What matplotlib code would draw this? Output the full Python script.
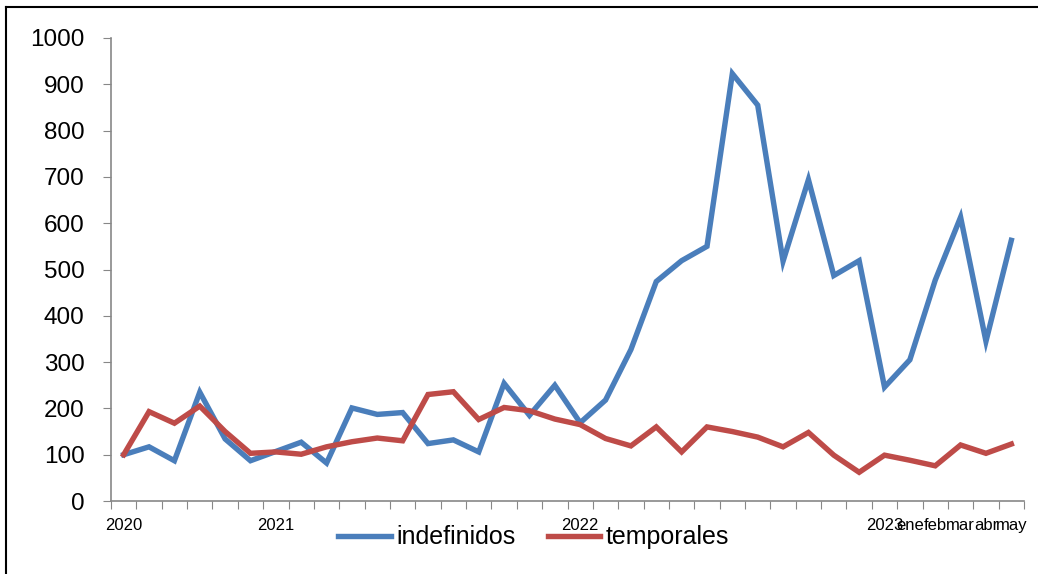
import numpy as np
import matplotlib
matplotlib.use('Agg')
import matplotlib.pyplot as plt
from matplotlib.lines import Line2D

plt.rcParams['font.family'] = ['Liberation Sans', 'DejaVu Sans']

# tick labels on the category axis (one per period, most blank)
labels = ['2020', '', '', '', '', '', '2021', '', '', '', '', '', '',
          '', '', '', '', '', '2022', '', '', '', '', '', '', '', '', '',
          '', '', '2023', 'ene', 'feb', 'mar', 'abr', 'may']
indefinidos = [100, 117, 87, 235, 134, 87, 107, 127, 82, 201, 187, 191,
               124, 132, 106, 254, 185, 250, 169, 218, 327, 474, 519, 550,
               923, 855, 518, 694, 487, 519, 246, 305, 477, 613, 345, 563]
temporales = [100, 193, 168, 205, 150, 103, 106, 101, 117, 128, 136, 130,
              230, 236, 176, 202, 195, 177, 165, 135, 119, 160, 106, 160,
              150, 138, 117, 148, 99, 62, 99, 88, 76, 121, 103, 123]

blue = '#4A7EBB'
red = '#BE4B48'
grey = '#878787'

fig = plt.figure(figsize=(10.38, 5.74), dpi=100)
ax = fig.add_axes([111/1038, 1 - 501/574, 913/1038, 463/574])

x = np.arange(len(labels))
ax.plot(x, indefinidos, color=blue, lw=3.9, solid_joinstyle='miter')
ax.plot(x, temporales, color=red, lw=3.9, solid_joinstyle='miter')

ax.set_xlim(-0.5, len(labels) - 0.5)
ax.set_ylim(0, 1000)
ax.set_yticks(range(0, 1001, 100))
ax.tick_params(axis='y', labelsize=17.5, length=6, color=grey, pad=13)

# ticks between categories, labels at the centres
ax.set_xticks(np.arange(-0.5, len(labels), 1.0))
ax.set_xticklabels([])
ax.set_xticks(x, minor=True)
ax.set_xticklabels(labels, minor=True, fontsize=12)
ax.tick_params(axis='x', which='major', length=6, color=grey)
ax.tick_params(axis='x', which='minor', length=0, pad=12)

for s in ['top', 'right']:
    ax.spines[s].set_visible(False)
for s in ['left', 'bottom']:
    ax.spines[s].set_color(grey)
    ax.spines[s].set_linewidth(1.2)

handles = [Line2D([], [], color=blue, lw=3.9),
           Line2D([], [], color=red, lw=3.9)]
fig.legend(handles, ['indefinidos', 'temporales'], loc='center',
           bbox_to_anchor=(0.514, 0.064), ncol=2, frameon=False,
           fontsize=18, handlelength=2.1, handletextpad=0.2,
           columnspacing=1.3)

# outer frame lines (chart is cropped)
fig.add_artist(Line2D([6/1038, 1], [1 - 7/574, 1 - 7/574], color='black', lw=1.5))
fig.add_artist(Line2D([6/1038, 6/1038], [0, 1 - 7/574], color='black', lw=1.5))

fig.savefig('out.png', dpi=100)
